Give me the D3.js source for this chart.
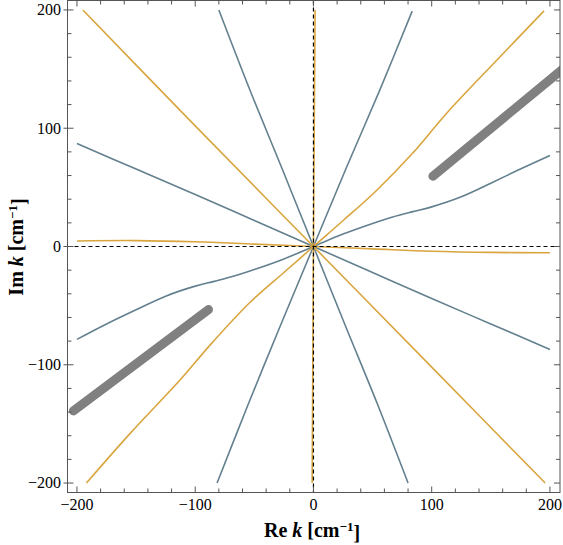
<!DOCTYPE html>
<html>
<head>
<meta charset="utf-8">
<script src="https://cdn.jsdelivr.net/npm/d3@7"></script>
<style>
  body { margin: 0; background: #fff; }
  svg text { font-family: "Liberation Serif", "Times New Roman", serif; }
</style>
</head>
<body>
<div id="chart"></div>
<script>
// ####################################################################################
// Data : [Re k, Im k] pairs in cm^-1

var xTicks = [-200, -100, 0, 100, 200];
var yTicks = [-200, -100, 0, 100, 200];

// blue-gray branches
var blueSteepA = [[-81.5,-200],[-55,-133],[-28,-67],[0,0],[28,67],[56,132],[83.5,199]];
var blueSteepB = [[-80,200],[-54,133],[-27,67],[0,0],[27,-67],[54,-133],[80,-200]];
var blueFlat   = [[-200,87],[-150,65.5],[-100,44],[-50,22],[0,0],[50,-22],[100,-44],[150,-65.5],[200,-87]];
var blueKnee   = [[-200,-78.5],[-175,-65.5],[-150,-53.5],[-125,-42],[-100,-33.5],[-84,-29.5],[-67,-25],[-50,-19.5],[-25,-10.5],
                  [0,0],[25,10.5],[50,19.5],[67,25],[84,29.5],[100,33.5],[125,42],[150,53.5],[175,65.5],[200,77]];

// orange branches
var orangeVert  = [[-1.1,-200],[0,0],[1.4,200]];
var orangeHoriz = [[-200,4.7],[-150,5],[-100,4],[-50,2],[0,0],[50,-2],[100,-4],[150,-5],[200,-5.3]];
var orangeDiag  = [[-195,200],[-100,102],[0,0],[100,-102],[196,-200]];
var orangeKnee  = [[-192,-200],[-155,-158],[-112.5,-112.5],[-88,-84],[-54,-47.6],[-25,-22],
                   [0,0],[25.4,22.2],[53.6,47.6],[84,79],[112.5,112.5],[155,157.5],[195,199.2]];

// thick gray segments
var grayUpper = [[101,59.4],[212,151]];
var grayLower = [[-203,-139],[-88.8,-53.3]];

var blueCurves   = [blueSteepA, blueSteepB, blueFlat, blueKnee];
var orangeCurves = [orangeVert, orangeHoriz, orangeDiag, orangeKnee];
var grayCurves   = [grayUpper, grayLower];

// ####################################################################################
// Layout
var W = 563, H = 545;
var plot = {left: 67.5, right: 560, top: 0.5, bottom: 492.5};

var svg = d3.select("#chart").append("svg")
  .attr("width", W)
  .attr("height", H);

var xScale = d3.scaleLinear().domain([-208, 208.5]).range([plot.left, plot.right]);
var yScale = d3.scaleLinear().domain([-208, 208]).range([plot.bottom, plot.top]);

svg.append("clipPath").attr("id", "clip")
  .append("rect")
    .attr("x", plot.left).attr("y", plot.top)
    .attr("width", plot.right - plot.left)
    .attr("height", plot.bottom - plot.top);

var g = svg.append("g").attr("clip-path", "url(#clip)");

var line = d3.line()
  .x(d => xScale(d[0]))
  .y(d => yScale(d[1]))
  .curve(d3.curveCatmullRom.alpha(0.5));

// ###########################################
// Curves
g.selectAll("path.blue")
  .data(blueCurves)
  .join("path")
    .attr("class", "blue")
    .attr("d", line)
    .attr("fill", "none")
    .attr("stroke", "#63808f")
    .attr("stroke-width", 1.6);

g.selectAll("path.orange")
  .data(orangeCurves)
  .join("path")
    .attr("class", "orange")
    .attr("d", line)
    .attr("fill", "none")
    .attr("stroke", "#d9a53e")
    .attr("stroke-width", 1.6);

g.selectAll("path.gray")
  .data(grayCurves)
  .join("path")
    .attr("class", "gray")
    .attr("d", line)
    .attr("fill", "none")
    .attr("stroke", "#808080")
    .attr("stroke-width", 9)
    .attr("stroke-linecap", "round");

// dashed zero axes
g.append("line")
  .attr("x1", xScale(0)).attr("x2", xScale(0))
  .attr("y1", plot.top).attr("y2", plot.bottom)
  .attr("stroke", "#000").attr("stroke-width", 1.2)
  .attr("stroke-dasharray", "4,3");

g.append("line")
  .attr("x1", plot.left).attr("x2", plot.right)
  .attr("y1", yScale(0)).attr("y2", yScale(0))
  .attr("stroke", "#000").attr("stroke-width", 1.2)
  .attr("stroke-dasharray", "4,3");

// ###########################################
// Frame and ticks
var frameCol = "#555";

svg.append("rect")
  .attr("x", plot.left).attr("y", plot.top)
  .attr("width", plot.right - plot.left)
  .attr("height", plot.bottom - plot.top)
  .attr("fill", "none")
  .attr("stroke", frameCol)
  .attr("stroke-width", 1);

var minor = d3.range(-200, 201, 20);

function isMajor(v) { return v % 100 === 0; }

// bottom + top
svg.selectAll("line.xtickB")
  .data(minor)
  .join("line")
    .attr("class", "xtickB")
    .attr("x1", d => xScale(d)).attr("x2", d => xScale(d))
    .attr("y1", plot.bottom).attr("y2", d => plot.bottom - (isMajor(d) ? 6 : 4))
    .attr("stroke", frameCol);

svg.selectAll("line.xtickT")
  .data(minor)
  .join("line")
    .attr("class", "xtickT")
    .attr("x1", d => xScale(d)).attr("x2", d => xScale(d))
    .attr("y1", plot.top).attr("y2", d => plot.top + (isMajor(d) ? 6 : 4))
    .attr("stroke", frameCol);

// left + right
svg.selectAll("line.ytickL")
  .data(minor)
  .join("line")
    .attr("class", "ytickL")
    .attr("y1", d => yScale(d)).attr("y2", d => yScale(d))
    .attr("x1", d => plot.left - (isMajor(d) ? 4 : 0)).attr("x2", d => plot.left + (isMajor(d) ? 6 : 4))
    .attr("stroke", frameCol);

svg.selectAll("line.ytickR")
  .data(minor)
  .join("line")
    .attr("class", "ytickR")
    .attr("y1", d => yScale(d)).attr("y2", d => yScale(d))
    .attr("x1", plot.right).attr("x2", d => plot.right - (isMajor(d) ? 6 : 4))
    .attr("stroke", frameCol);

// tick labels
var fmt = d => (d < 0 ? "\u2212" + Math.abs(d) : String(d));

svg.selectAll("text.xlab")
  .data(xTicks)
  .join("text")
    .attr("class", "xlab")
    .attr("x", d => xScale(d))
    .attr("y", 510)
    .attr("text-anchor", "middle")
    .style("font-size", "16px")
    .text(fmt);

svg.selectAll("text.ylab")
  .data(yTicks)
  .join("text")
    .attr("class", "ylab")
    .attr("x", 61)
    .attr("y", d => yScale(d))
    .attr("dy", "0.34em")
    .attr("text-anchor", "end")
    .style("font-size", "16px")
    .text(fmt);

// axis titles
function axisTitle(sel, part) {
  sel.append("tspan").text(part + " ");
  sel.append("tspan").style("font-style", "italic").text("k");
  sel.append("tspan").text(" [cm");
  sel.append("tspan").attr("dy", "-0.45em").style("font-size", "13px").text("\u22121");
  sel.append("tspan").attr("dy", "0.45em").text("]");
}

var xTitle = svg.append("text")
  .attr("x", 312).attr("y", 537)
  .attr("text-anchor", "middle")
  .style("font-size", "20px")
  .style("font-weight", "bold");
axisTitle(xTitle, "Re");

var yTitle = svg.append("text")
  .attr("transform", "translate(23,247) rotate(-90)")
  .attr("text-anchor", "middle")
  .style("font-size", "20px")
  .style("font-weight", "bold");
axisTitle(yTitle, "Im");
</script>
</body>
</html>
